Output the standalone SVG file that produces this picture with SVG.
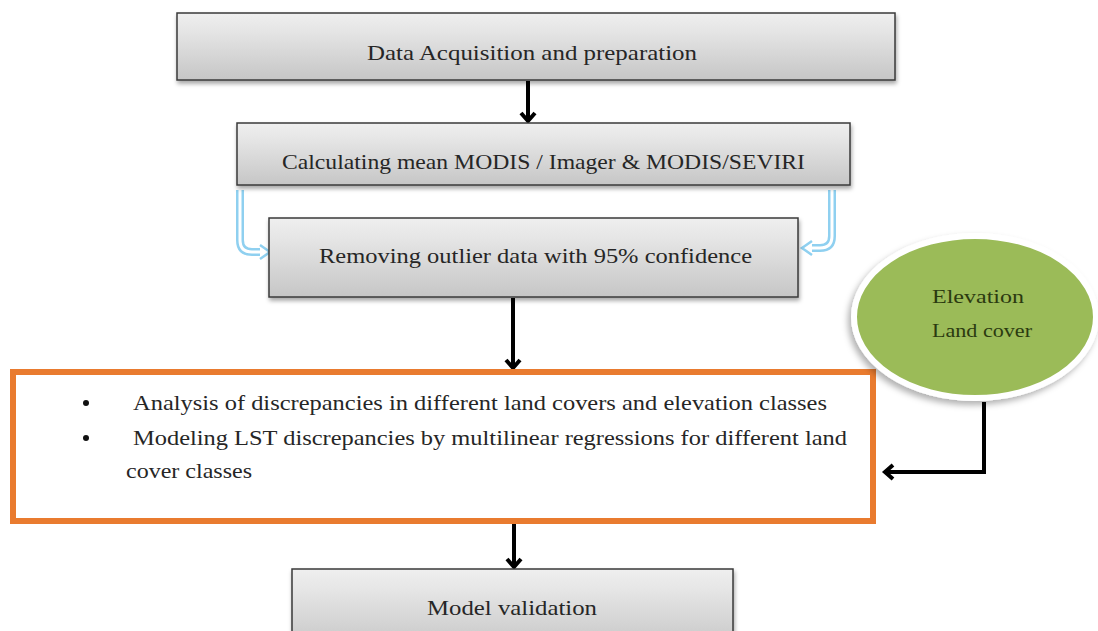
<svg xmlns="http://www.w3.org/2000/svg" width="1098" height="631" viewBox="0 0 1098 631">
<style>
.box{fill:url(#g);stroke:#3a3a3a;stroke-width:1.5;filter:url(#sh)}
.t{font-family:"Liberation Serif",serif;font-size:22px;fill:#262626}
.e{font-family:"Liberation Serif",serif;font-size:19px;fill:#2b3a10}
.c{stroke:#000;stroke-width:4;fill:none;marker-end:url(#ah)}
.b{stroke:#8fd0f0;stroke-width:8;fill:none}
.bi{stroke:#fff;stroke-width:3;fill:none}
.dot{fill:#111}
</style>
<defs>
<linearGradient id="g" x1="0" y1="0" x2="0" y2="1">
<stop offset="0" stop-color="#efefef"/>
<stop offset="0.25" stop-color="#e6e6e6"/>
<stop offset="1" stop-color="#c6c6c6"/>
</linearGradient>
<filter id="sh" x="-5%" y="-10%" width="110%" height="130%">
<feDropShadow dx="1" dy="3" stdDeviation="2" flood-color="#000" flood-opacity="0.35"/>
</filter>
<filter id="esh" x="-10%" y="-10%" width="120%" height="130%">
<feDropShadow dx="-3" dy="4" stdDeviation="3" flood-color="#000" flood-opacity="0.3"/>
</filter>
<marker id="ah" markerWidth="16" markerHeight="18" refX="10" refY="9" orient="auto" markerUnits="userSpaceOnUse">
<path d="M2,2 L10,9 L2,16" fill="none" stroke="#000" stroke-width="4"/>
</marker>
</defs>
<g id="connectors">
<line class="c" x1="528" y1="81" x2="528" y2="121"/>
<line class="c" x1="513" y1="298" x2="513" y2="368"/>
<line class="c" x1="514" y1="524" x2="514" y2="567"/>
<path class="c" d="M984,402 V472 H885"/>
<path class="b" d="M240,190 V240 Q240,252 252,252 H262"/>
<path class="bi" d="M240,190 V240 Q240,252 252,252 H262"/>
<path d="M260,245 L270,252 L260,259" fill="#fff" stroke="#8fd0f0" stroke-width="2.5"/>
<path class="b" d="M832,190 V236 Q832,248 820,248 H810"/>
<path class="bi" d="M832,190 V236 Q832,248 820,248 H810"/>
<path d="M812,241 L802,248 L812,255" fill="#fff" stroke="#8fd0f0" stroke-width="2.5"/>
</g>
<g id="n1">
<rect class="box" x="177" y="13" width="718" height="67"/>
<text class="t" x="367" y="60" textLength="330" lengthAdjust="spacingAndGlyphs">Data Acquisition and preparation</text>
</g>
<g id="n2">
<rect class="box" x="237" y="123" width="613" height="62"/>
<text class="t" x="282" y="169" textLength="523" lengthAdjust="spacingAndGlyphs">Calculating mean MODIS / Imager &amp; MODIS/SEVIRI</text>
</g>
<g id="n3">
<rect class="box" x="269" y="218" width="529" height="79"/>
<text class="t" x="319" y="263" textLength="433" lengthAdjust="spacingAndGlyphs">Removing outlier data with 95% confidence</text>
</g>
<g id="n4">
<rect x="13" y="372" width="860" height="149" fill="#fff" stroke="#e97b2f" stroke-width="6"/>
<circle class="dot" cx="86" cy="403" r="3"/>
<text class="t" x="133" y="410" textLength="694" lengthAdjust="spacingAndGlyphs">Analysis of discrepancies in different land covers and elevation classes</text>
<circle class="dot" cx="86" cy="438" r="3"/>
<text class="t" x="133" y="445" textLength="714" lengthAdjust="spacingAndGlyphs">Modeling LST discrepancies by multilinear regressions for different land</text>
<text class="t" x="126" y="478" textLength="126" lengthAdjust="spacingAndGlyphs">cover classes</text>
</g>
<g id="n5">
<rect class="box" x="292" y="569" width="441" height="80"/>
<text class="t" x="427" y="615" textLength="170" lengthAdjust="spacingAndGlyphs">Model validation</text>
</g>
<g id="n6">
<ellipse cx="975" cy="317" rx="121" ry="81" fill="#9bbb59" stroke="#fff" stroke-width="6" filter="url(#esh)"/>
<text class="e" x="932" y="303" textLength="92" lengthAdjust="spacingAndGlyphs">Elevation</text>
<text class="e" x="932" y="337" textLength="100" lengthAdjust="spacingAndGlyphs">Land cover</text>
</g>
</svg>
